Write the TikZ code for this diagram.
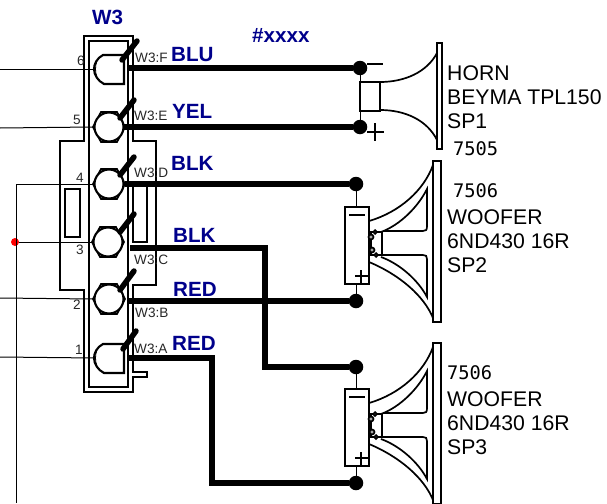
\documentclass[tikz,border=0pt]{standalone}
\usepackage{fontspec}
\setmainfont{Liberation Sans}
\newfontfamily\codefont{DejaVu Sans Mono}
\definecolor{wireblue}{RGB}{0,0,139}
\tikzset{
  housing/.style={draw=black,line width=1.7pt},
  thinwire/.style={draw=black,line width=1pt},
  thickwire/.style={draw=black,line width=5.5pt,line join=miter},
  pinline/.style={draw=black,line width=5.5pt,line cap=round},
  term/.style={circle,draw=black,fill=white,line width=2.1pt,minimum size=29pt,inner sep=0pt},
  dterm/.style={circle,minimum size=29pt,inner sep=0pt},
  jdot/.style={circle,fill=black,minimum size=14.5pt,inner sep=0pt},
  reddot/.style={circle,fill=red,minimum size=8pt,inner sep=0pt},
  spk/.style={draw=black,line width=1.7pt},
  colourlabel/.style={anchor=base west,inner sep=0pt,text=wireblue,font=\fontsize{20.6}{20.6}\selectfont\bfseries},
  pinlabel/.style={anchor=base west,inner sep=0pt,text=black!85,font=\fontsize{13.6}{13.6}\selectfont},
  pinnum/.style={anchor=center,inner sep=0pt,text=black!85,font=\fontsize{13.6}{13.6}\selectfont},
  spklabel/.style={anchor=base west,inner sep=0pt,font=\fontsize{21.2}{21.2}\selectfont},
  codelabel/.style={anchor=base west,inner sep=0pt,font=\fontsize{18.7}{18.7}\selectfont\codefont},
}
\newcommand{\hexat}[2]{\draw[spk] (#1-16,#2) -- (#1-8,#2-15) -- (#1+8,#2-15) -- (#1+16,#2) -- (#1+8,#2+15) -- (#1-8,#2+15) -- cycle;}
\newcommand{\dshape}[2]{\draw[spk,fill=white,line width=2.1pt] (#1+14,#2-14) -- (#1-7,#2-14) .. controls (#1-13,#2-11) and (#1-16,#2-5) .. (#1-16,#2) .. controls (#1-16,#2+6) and (#1-12,#2+12) .. (#1-6,#2+15) -- (#1+14,#2+15) -- cycle;
 \draw[spk,line width=0.8pt] (#1-13,#2-8) .. controls (#1-15,#2-3) and (#1-15,#2+3) .. (#1-13,#2+8);}
\newcommand{\wooferbody}{%
  \draw[spk,fill=white] (345,207) rectangle (369,284);
  \draw[spk] (433,161) rectangle (441,322);
  \draw[spk] (369,221) .. controls (400,212) and (424,190) .. (433,165);
  \draw[spk] (369,262) .. controls (400,275) and (424,296) .. (433,318);
  \draw[spk] (381,232) .. controls (400,225) and (418,207) .. (427,189) -- (427,226) .. controls (427,230) and (426,231) .. (423,231) -- (383,231);
  \draw[spk] (383,255) -- (423,255) .. controls (426,255) and (427,256) .. (427,259) -- (427,297) .. controls (418,280) and (400,264) .. (381,257);
  \draw[spk] (371,232) rectangle (382,255);
  \draw[spk,fill=black!35] (371,237) circle (2.5pt);
  \draw[spk,fill=black!35] (375,232) circle (1.8pt);
  \draw[spk,fill=black!35] (372,250) circle (2.5pt);
  \draw[spk,fill=black!35] (376,255) circle (1.8pt);
  \draw[line width=2pt] (349,215) -- (365,215);
  \draw[line width=2pt] (355,276) -- (368,276) (361,270) -- (361,283);
}
\begin{document}
\begin{tikzpicture}[x=1pt,y=-1pt]
\useasboundingbox (0,0) rectangle (607,503);
% housing
\draw[housing] (84,141) -- (84,36) -- (133,36) -- (133,141) -- (156,141) -- (156,285) -- (133,285) -- (133,372) -- (147,372) -- (147,377) -- (133,377) -- (133,392) -- (84,392) -- (84,290) -- (60,290) -- (60,141) -- cycle;
\draw[housing] (89,41) rectangle (128,387);
\draw[housing] (65,189) rectangle (80,237);
\draw[housing] (133,186) rectangle (147,242);
% terminals
\hexat{109}{127}\hexat{109}{184}\hexat{108}{242}\hexat{109}{299}
\dshape{110}{69}\dshape{110}{358}
\node[dterm] (t6) at (110,69) {};
\node[term] (t5) at (109,127) {};
\node[term] (t4) at (109,184) {};
\node[term] (t3) at (108,242) {};
\node[term] (t2) at (109,299) {};
\node[dterm] (t1) at (110,358) {};
% free ends
\coordinate (l6) at (0,69);
\coordinate (l5) at (0,128);
\coordinate (l2) at (0,298);
\coordinate (l1) at (0,357);
\coordinate (bus4) at (16,184);
\coordinate (busend) at (16,503);
\node[reddot] (red3) at (15,242) {};
% pins
\coordinate (p6) at (137,41);\coordinate (p5) at (134,100);\coordinate (p4) at (134,157);
\coordinate (p3) at (134,214);\coordinate (p2) at (134,271);\coordinate (p1) at (136,331);
\draw[pinline] (122,60) -- (p6);
\draw[pinline] (120,118) -- (p5);
\draw[pinline] (120,175) -- (p4);
\draw[pinline] (120,232) -- (p3);
\draw[pinline] (120,290) -- (p2);
\draw[pinline] (123,349) -- (p1);
% left wires
\draw[thinwire] (l6) -- (t6.west);
\draw[thinwire] (l5) -- (t5.west);
\draw[thinwire] (t4.west) -- (bus4) -- (busend);
\draw[thinwire] (t3.west) -- (red3);
\draw[thinwire] (l2) -- (t2.west);
\draw[thinwire] (l1) -- (t1.west);
% junction dots
\node[jdot] (j6) at (360,68) {};
\node[jdot] (j5) at (360,127) {};
\node[jdot] (j4) at (356,184) {};
\node[jdot] (j2) at (356,301) {};
\node[jdot] (j3) at (356,367) {};
\node[jdot] (j1) at (356,483) {};
% thick wires
\coordinate (s6) at (127,68);\coordinate (s5) at (123,127);\coordinate (s4) at (125,184);
\coordinate (s3) at (130,248);\coordinate (s2) at (127,301);\coordinate (s1) at (129,358);
\draw[thickwire] (s6) -- (j6);
\draw[thickwire] (s5) -- (j5);
\draw[thickwire] (s4) -- (j4);
\draw[thickwire] (s3) -- (265,248) -- (265,367) -- (j3);
\draw[thickwire] (s2) -- (j2);
\draw[thickwire] (s1) -- (212,358) -- (212,483) -- (j1);
% horn
\draw[thinwire] (j6) -- (j5);
\draw[spk,fill=white] (360,82) rectangle (380,111);
\draw[spk] (437,43) rectangle (442,149);
\draw[spk] (380,82) .. controls (405,82) and (427,72) .. (437,53);
\draw[spk] (380,110) .. controls (405,110) and (427,120) .. (437,140);
\draw[line width=2pt] (367,64) -- (383,64);
\draw[line width=2pt] (367,132) -- (384,132) (375,123) -- (375,141);
% woofers
\draw[thinwire] (j4) -- (356,207);
\draw[thinwire] (j2) -- (356,284);
\wooferbody
\draw[thinwire] (j3) -- (356,389);
\draw[thinwire] (j1) -- (356,466);
\begin{scope}[shift={(0,182)}]
\wooferbody
\end{scope}
% labels
\node[colourlabel] (w3title) at (92,25) {W3};
\node[colourlabel] (hash) at (252,43) {\#xxxx};
\node[colourlabel] (cF) at (171,61) {BLU};
\node[colourlabel] (cE) at (172,118) {YEL};
\node[colourlabel] (cD) at (171,170) {BLK};
\node[colourlabel] (cC) at (173,242) {BLK};
\node[colourlabel] (cB) at (173,296) {RED};
\node[colourlabel] (cA) at (172,350) {RED};
\node[pinlabel] (lF) at (135,63) {W3:F};
\node[pinlabel] (lE) at (134,120) {W3:E};
\node[pinlabel] (lD) at (134,177) {W3:D};
\node[pinlabel] (lC) at (134,264) {W3:C};
\node[pinlabel] (lB) at (135,317) {W3:B};
\node[pinlabel] (lA) at (134,353) {W3:A};
\node[pinnum] (n6) at (81,61) {6};
\node[pinnum] (n5) at (77,120) {5};
\node[pinnum] (n4) at (80,178) {4};
\node[pinnum] (n3) at (80,250) {3};
\node[pinnum] (n2) at (77,305) {2};
\node[pinnum] (n1) at (79,350) {1};
\node[spklabel] (h1) at (447,80) {HORN};
\node[spklabel] (h2) at (447,104) {BEYMA TPL150};
\node[spklabel] (h3) at (447,128) {SP1};
\node[codelabel] (c1) at (453,155) {7505};
\node[codelabel] (c2) at (453,197) {7506};
\node[spklabel] (a2) at (447,224) {WOOFER};
\node[spklabel] (a3) at (447,248) {6ND430 16R};
\node[spklabel] (a4) at (447,272) {SP2};
\node[codelabel] (c3) at (447,379) {7506};
\node[spklabel] (b2) at (447,406) {WOOFER};
\node[spklabel] (b3) at (447,430) {6ND430 16R};
\node[spklabel] (b4) at (447,454) {SP3};
\end{tikzpicture}
\end{document}
